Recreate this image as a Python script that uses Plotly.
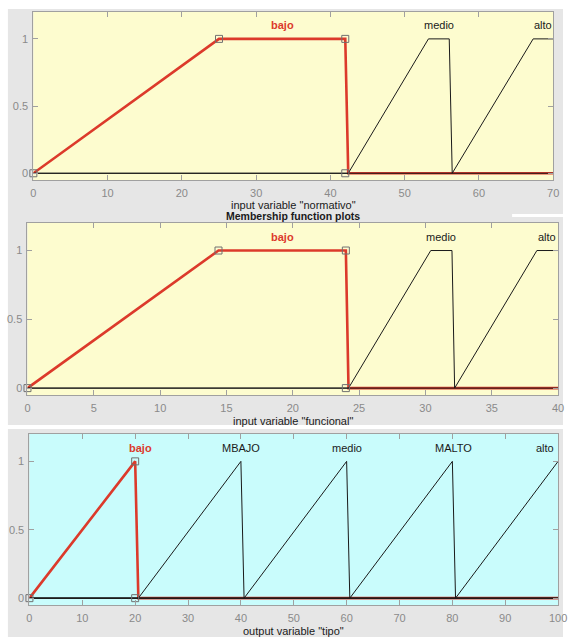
import plotly.graph_objects as go

W, H = 572, 637
FONT = "Liberation Sans, Arial, Helvetica, sans-serif"

RED = "#dc3a2b"
BLACK = "#1a1a1a"
TICK_GRAY = "#8a8a8a"
FRAME_GRAY = "#a0a0a0"
FIG_GRAY = "#e6e6e6"
YELLOW = "#fdfccf"
CYAN = "#c9fcfc"

# ---------- input variable "normativo" (0 .. 70) ----------
norm_ticks = [0, 10, 20, 30, 40, 50, 60, 70]
norm_bajo_x = [0, 25, 42, 42.4, 70]
norm_bajo_y = [0, 1, 1, 0, 0]
norm_medio_x = [0, 42.4, 53.2, 56, 56.4, 70]
norm_medio_y = [0, 0, 1, 1, 0, 0]
norm_alto_x = [0, 56.4, 67.3, 70]
norm_alto_y = [0, 0, 1, 1]
norm_handle_x = [0, 25, 42, 42]
norm_handle_y = [0, 1, 1, 0]
norm_labels = ["bajo", "medio", "alto"]
norm_label_x = [33.5, 54.6, 68.65]

# ---------- input variable "funcional" (0 .. 40) ----------
func_ticks = [0, 5, 10, 15, 20, 25, 30, 35, 40]
func_bajo_x = [0, 14.4, 24, 24.2, 40]
func_bajo_y = [0, 1, 1, 0, 0]
func_medio_x = [0, 24.2, 30.4, 32, 32.2, 40]
func_medio_y = [0, 0, 1, 1, 0, 0]
func_alto_x = [0, 32.2, 38.4, 40]
func_alto_y = [0, 0, 1, 1]
func_handle_x = [0, 14.4, 24, 24]
func_handle_y = [0, 1, 1, 0]
func_labels = ["bajo", "medio", "alto"]
func_label_x = [19.2, 31.2, 39.2]

# ---------- output variable "tipo" (0 .. 100) ----------
tipo_ticks = [0, 10, 20, 30, 40, 50, 60, 70, 80, 90, 100]
tipo_bajo_x = [0, 20, 20.6, 100]
tipo_bajo_y = [0, 1, 0, 0]
tipo_mbajo_x = [0, 20.6, 40, 40.6, 100]
tipo_mbajo_y = [0, 0, 1, 0, 0]
tipo_medio_x = [0, 40.6, 60, 60.6, 100]
tipo_medio_y = [0, 0, 1, 0, 0]
tipo_malto_x = [0, 60.6, 80, 80.6, 100]
tipo_malto_y = [0, 0, 1, 0, 0]
tipo_alto_x = [0, 80.6, 100]
tipo_alto_y = [0, 0, 1]
tipo_handle_x = [0, 20, 20]
tipo_handle_y = [0, 1, 0]
tipo_labels = ["bajo", "MBAJO", "medio", "MALTO", "alto"]
tipo_label_x = [21, 40, 60.1, 80.2, 97.5]

y_ticks = [0, 0.5, 1]
y_ticktext = ["0", "0.5", "1"]


def fx(px):
    return px / W


def fy(py):
    return 1 - py / H


panels = [
    dict(
        ax="", box=(31, 12, 562, 180), bg=YELLOW, xmax=70, ticks=norm_ticks,
        selected=(norm_bajo_x, norm_bajo_y),
        others=[(norm_medio_x, norm_medio_y), (norm_alto_x, norm_alto_y)],
        handles=(norm_handle_x, norm_handle_y),
        labels=norm_labels, label_x=norm_label_x,
        title='input variable "normativo"', title_y=205,
    ),
    dict(
        ax="2", box=(25, 223, 567, 395), bg=YELLOW, xmax=40, ticks=func_ticks,
        selected=(func_bajo_x, func_bajo_y),
        others=[(func_medio_x, func_medio_y), (func_alto_x, func_alto_y)],
        handles=(func_handle_x, func_handle_y),
        labels=func_labels, label_x=func_label_x,
        title='input variable "funcional"', title_y=421,
    ),
    dict(
        ax="3", box=(27, 434, 567, 605), bg=CYAN, xmax=100, ticks=tipo_ticks,
        selected=(tipo_bajo_x, tipo_bajo_y),
        others=[(tipo_mbajo_x, tipo_mbajo_y), (tipo_medio_x, tipo_medio_y),
                (tipo_malto_x, tipo_malto_y), (tipo_alto_x, tipo_alto_y)],
        handles=(tipo_handle_x, tipo_handle_y),
        labels=tipo_labels, label_x=tipo_label_x,
        title='output variable "tipo"', title_y=631,
    ),
]

fig = go.Figure()

# window backgrounds behind the three plots
shapes = [
    dict(type="rect", xref="paper", yref="paper", x0=fx(5), x1=fx(572),
         y0=fy(425), y1=fy(9), fillcolor=FIG_GRAY, line_width=0, layer="below"),
    dict(type="rect", xref="paper", yref="paper", x0=fx(5), x1=fx(572),
         y0=fy(637), y1=fy(429), fillcolor=FIG_GRAY, line_width=0, layer="below"),
    dict(type="rect", xref="paper", yref="paper", x0=fx(520), x1=fx(572),
         y0=fy(217), y1=fy(214), fillcolor="white", line_width=0, layer="below"),
]
annotations = []
layout_axes = {}

for p in panels:
    ax = p["ax"]
    xa, ya = "x" + ax, "y" + ax
    l, t, r, b = p["box"]
    shapes.append(dict(type="rect", xref="paper", yref="paper", x0=fx(l), x1=fx(r),
                       y0=fy(b), y1=fy(t), fillcolor=p["bg"], line_width=0,
                       layer="below"))

    sx, sy = p["selected"]
    fig.add_trace(go.Scatter(x=sx, y=sy, mode="lines", xaxis=xa, yaxis=ya,
                             line=dict(color=RED, width=2.6), hoverinfo="skip"))
    for ox, oy in p["others"]:
        fig.add_trace(go.Scatter(x=ox, y=oy, mode="lines", xaxis=xa, yaxis=ya,
                                 line=dict(color=BLACK, width=1), hoverinfo="skip"))
    hx, hy = p["handles"]
    fig.add_trace(go.Scatter(x=hx, y=hy, mode="markers", xaxis=xa, yaxis=ya,
                             marker=dict(symbol="square-open", size=7,
                                         color="#707070", line=dict(width=1)),
                             hoverinfo="skip", cliponaxis=False))

    for i, (name, lx) in enumerate(zip(p["labels"], p["label_x"])):
        sel = i == 0
        annotations.append(dict(
            x=lx, y=1.1, xref=xa, yref=ya, showarrow=False,
            xanchor="center", yanchor="middle",
            text="<b>%s</b>" % name if sel else name,
            font=dict(family=FONT, size=11, color=RED if sel else BLACK),
        ))

    layout_axes["xaxis" + ax] = dict(
        domain=[fx(l), fx(r)], range=[0, p["xmax"]], anchor=ya,
        tickvals=p["ticks"], ticks="inside", ticklen=5, tickcolor=FRAME_GRAY,
        showline=True, linecolor=FRAME_GRAY, linewidth=1, mirror="ticks",
        showgrid=False, zeroline=False, ticklabelstandoff=3,
        tickfont=dict(family=FONT, size=11, color=TICK_GRAY),
    )
    layout_axes["yaxis" + ax] = dict(
        domain=[fy(b), fy(t)], range=[-0.05, 1.2], anchor=xa,
        tickvals=y_ticks, ticktext=y_ticktext, ticks="inside", ticklen=5,
        tickcolor=FRAME_GRAY, showline=True, linecolor=FRAME_GRAY, linewidth=1,
        mirror="ticks", showgrid=False, zeroline=False, ticklabelstandoff=2,
        tickfont=dict(family=FONT, size=11, color=TICK_GRAY),
    )

# window heading between the first two plots
annotations.append(dict(
    x=fx(296), y=fy(216), xref="paper", yref="paper", showarrow=False,
    xanchor="center", yanchor="middle",
    text="<b>Membership function plots</b>",
    font=dict(family=FONT, size=10.5, color=BLACK),
))

for p in panels:
    l, t, r, b = p["box"]
    annotations.append(dict(
        x=fx((l + r) / 2), y=fy(p["title_y"]), xref="paper", yref="paper",
        showarrow=False, xanchor="center", yanchor="middle", text=p["title"],
        font=dict(family=FONT, size=11, color=BLACK),
    ))

fig.update_layout(
    width=W, height=H, margin=dict(l=0, r=0, t=0, b=0),
    paper_bgcolor="white", plot_bgcolor="rgba(0,0,0,0)",
    showlegend=False, shapes=shapes, annotations=annotations,
    **layout_axes,
)

fig.write_html("out.html")
